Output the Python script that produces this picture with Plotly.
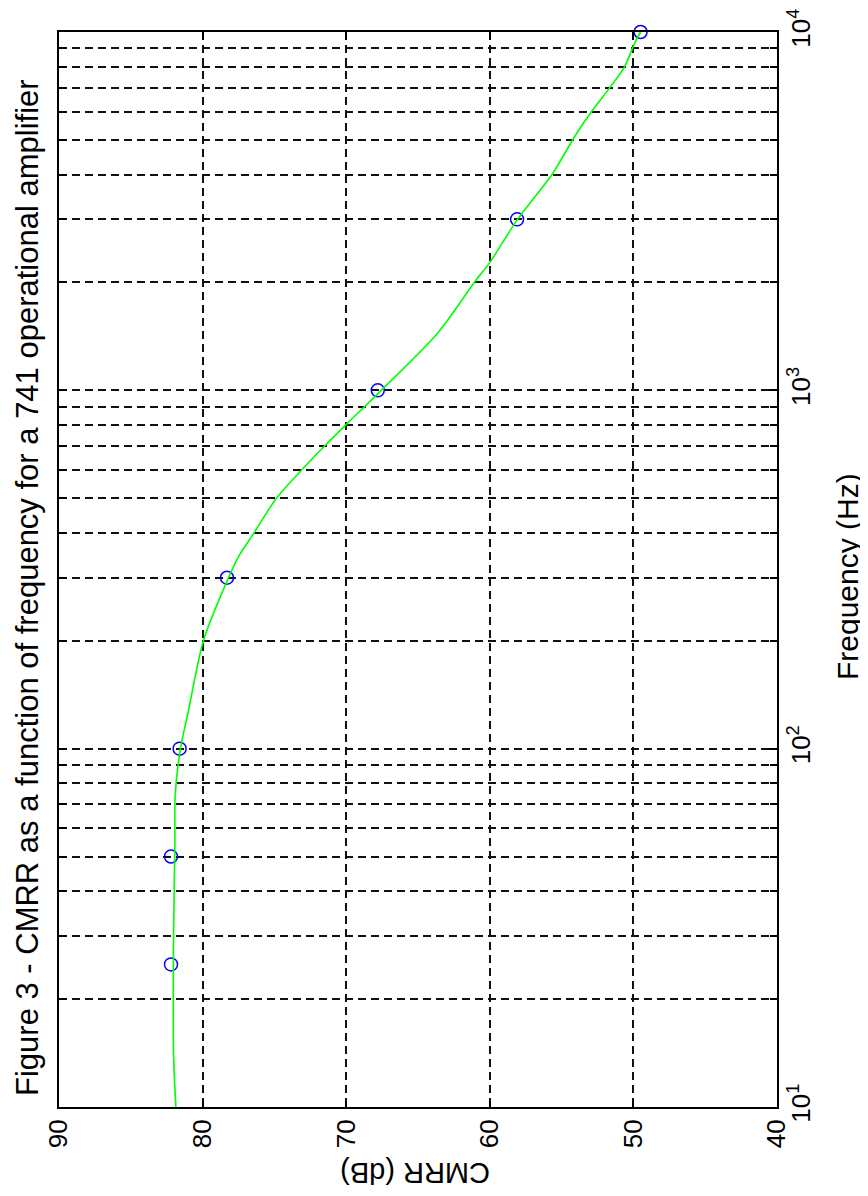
import plotly.graph_objects as go

# Measured points (blue circles)
freq_pts = [25, 50, 100, 300, 1000, 3000, 10000]
cmrr_pts = [82.2, 82.2, 81.6, 78.3, 67.8, 58.1, 49.5]

# Fitted curve (green line)
freq_curve = [10, 14, 30, 55, 74, 99, 128, 201, 296, 344, 399, 500, 602, 696,
              809, 981, 1443, 2030, 2261, 2985, 4029, 5094, 5982, 7028, 7997,
              9295, 10000]
cmrr_curve = [81.86, 82.02, 82.02, 81.93, 81.91, 81.56, 80.98, 79.93, 78.26,
              77.49, 76.44, 74.86, 73.06, 71.56, 69.92, 67.77, 63.64, 60.97,
              60.04, 58.11, 55.62, 54.11, 52.94, 51.60, 50.62, 49.92, 49.5]

cmrr_ticks = [40, 50, 60, 70, 80, 90]
freq_ticks = [10, 100, 1000, 10000]
freq_ticktext = ["10<sup>1</sup>", "10<sup>2</sup>", "10<sup>3</sup>", "10<sup>4</sup>"]
freq_minor = [m * d for d in (10, 100, 1000) for m in range(2, 10)]

title_text = "Figure 3 - CMRR as a function of frequency for a 741 operational amplifier"
xlabel = "CMRR (dB)"
ylabel = "Frequency (Hz)"

FONT = "Liberation Sans, Arial, Helvetica, sans-serif"
OFF = 8  # page body margin
W, H = 868 - OFF, 1196 - OFF
# target screen positions of the plot area
SL, SR, ST, SB = 59, 777, 32, 1107
L, T = SL - OFF, ST - OFF
R, B = W - (SR - OFF), H - (SB - OFF)
pw, ph = W - L - R, H - T - B

def px_to_paper(x, y):
    # x, y: screen pixels
    return (x - SL) / pw, (SB - y) / ph

fig = go.Figure()
fig.add_trace(go.Scatter(
    x=cmrr_pts, y=freq_pts, mode="markers",
    marker=dict(symbol="circle-open", size=13, color="#0000ff",
                line=dict(width=1.5, color="#0000ff")),
    showlegend=False, cliponaxis=False))
fig.add_trace(go.Scatter(
    x=cmrr_curve, y=freq_curve, mode="lines",
    line=dict(color="#00ff00", width=1.6, shape="spline", smoothing=0.8),
    showlegend=False))

grid_dash = "8px,5px"
GC = "#111111"
fig.update_xaxes(
    range=[90, 40], tickvals=cmrr_ticks, ticks="inside", ticklen=8,
    tickwidth=1.5, tickcolor="black", tickangle=-90,
    tickfont=dict(family=FONT, size=26, color="black"),
    showline=True, linecolor="black", linewidth=1.8, mirror="allticks",
    showgrid=True, gridcolor=GC, gridwidth=1.6, griddash=grid_dash,
    zeroline=False, automargin=False)
fig.update_yaxes(
    type="log", range=[1, 4], side="right",
    tickvals=freq_ticks, ticktext=freq_ticktext,
    ticks="inside", ticklen=8, tickwidth=1.5, tickcolor="black", tickangle=-90,
    tickfont=dict(family=FONT, size=26, color="black"),
    showline=True, linecolor="black", linewidth=1.8, mirror="allticks",
    showgrid=True, gridcolor=GC, gridwidth=1.6, griddash=grid_dash,
    minor=dict(tickvals=freq_minor, ticks="inside", ticklen=7, tickwidth=1.5,
               tickcolor="black", showgrid=True, gridcolor=GC,
               gridwidth=1.6, griddash=grid_dash),
    zeroline=False, automargin=False)

ax, ay = px_to_paper(27, 588)
fig.add_annotation(text=title_text, x=ax, y=ay, xref="paper", yref="paper",
                   textangle=-90, showarrow=False, xanchor="center", yanchor="middle",
                   font=dict(family=FONT, size=31, color="black"))
ax, ay = px_to_paper(415, 1173)
fig.add_annotation(text=xlabel, x=ax, y=ay, xref="paper", yref="paper",
                   textangle=180, showarrow=False, xanchor="center", yanchor="middle",
                   font=dict(family=FONT, size=29, color="black"))
ax, ay = px_to_paper(848, 577)
fig.add_annotation(text=ylabel, x=ax, y=ay, xref="paper", yref="paper",
                   textangle=-90, showarrow=False, xanchor="center", yanchor="middle",
                   font=dict(family=FONT, size=30, color="black"))

fig.update_layout(
    width=W, height=H, template="none",
    margin=dict(l=L, r=R, t=T, b=B, pad=0),
    paper_bgcolor="white", plot_bgcolor="white",
    font=dict(family=FONT, color="black"))

fig.write_html("out.html")
